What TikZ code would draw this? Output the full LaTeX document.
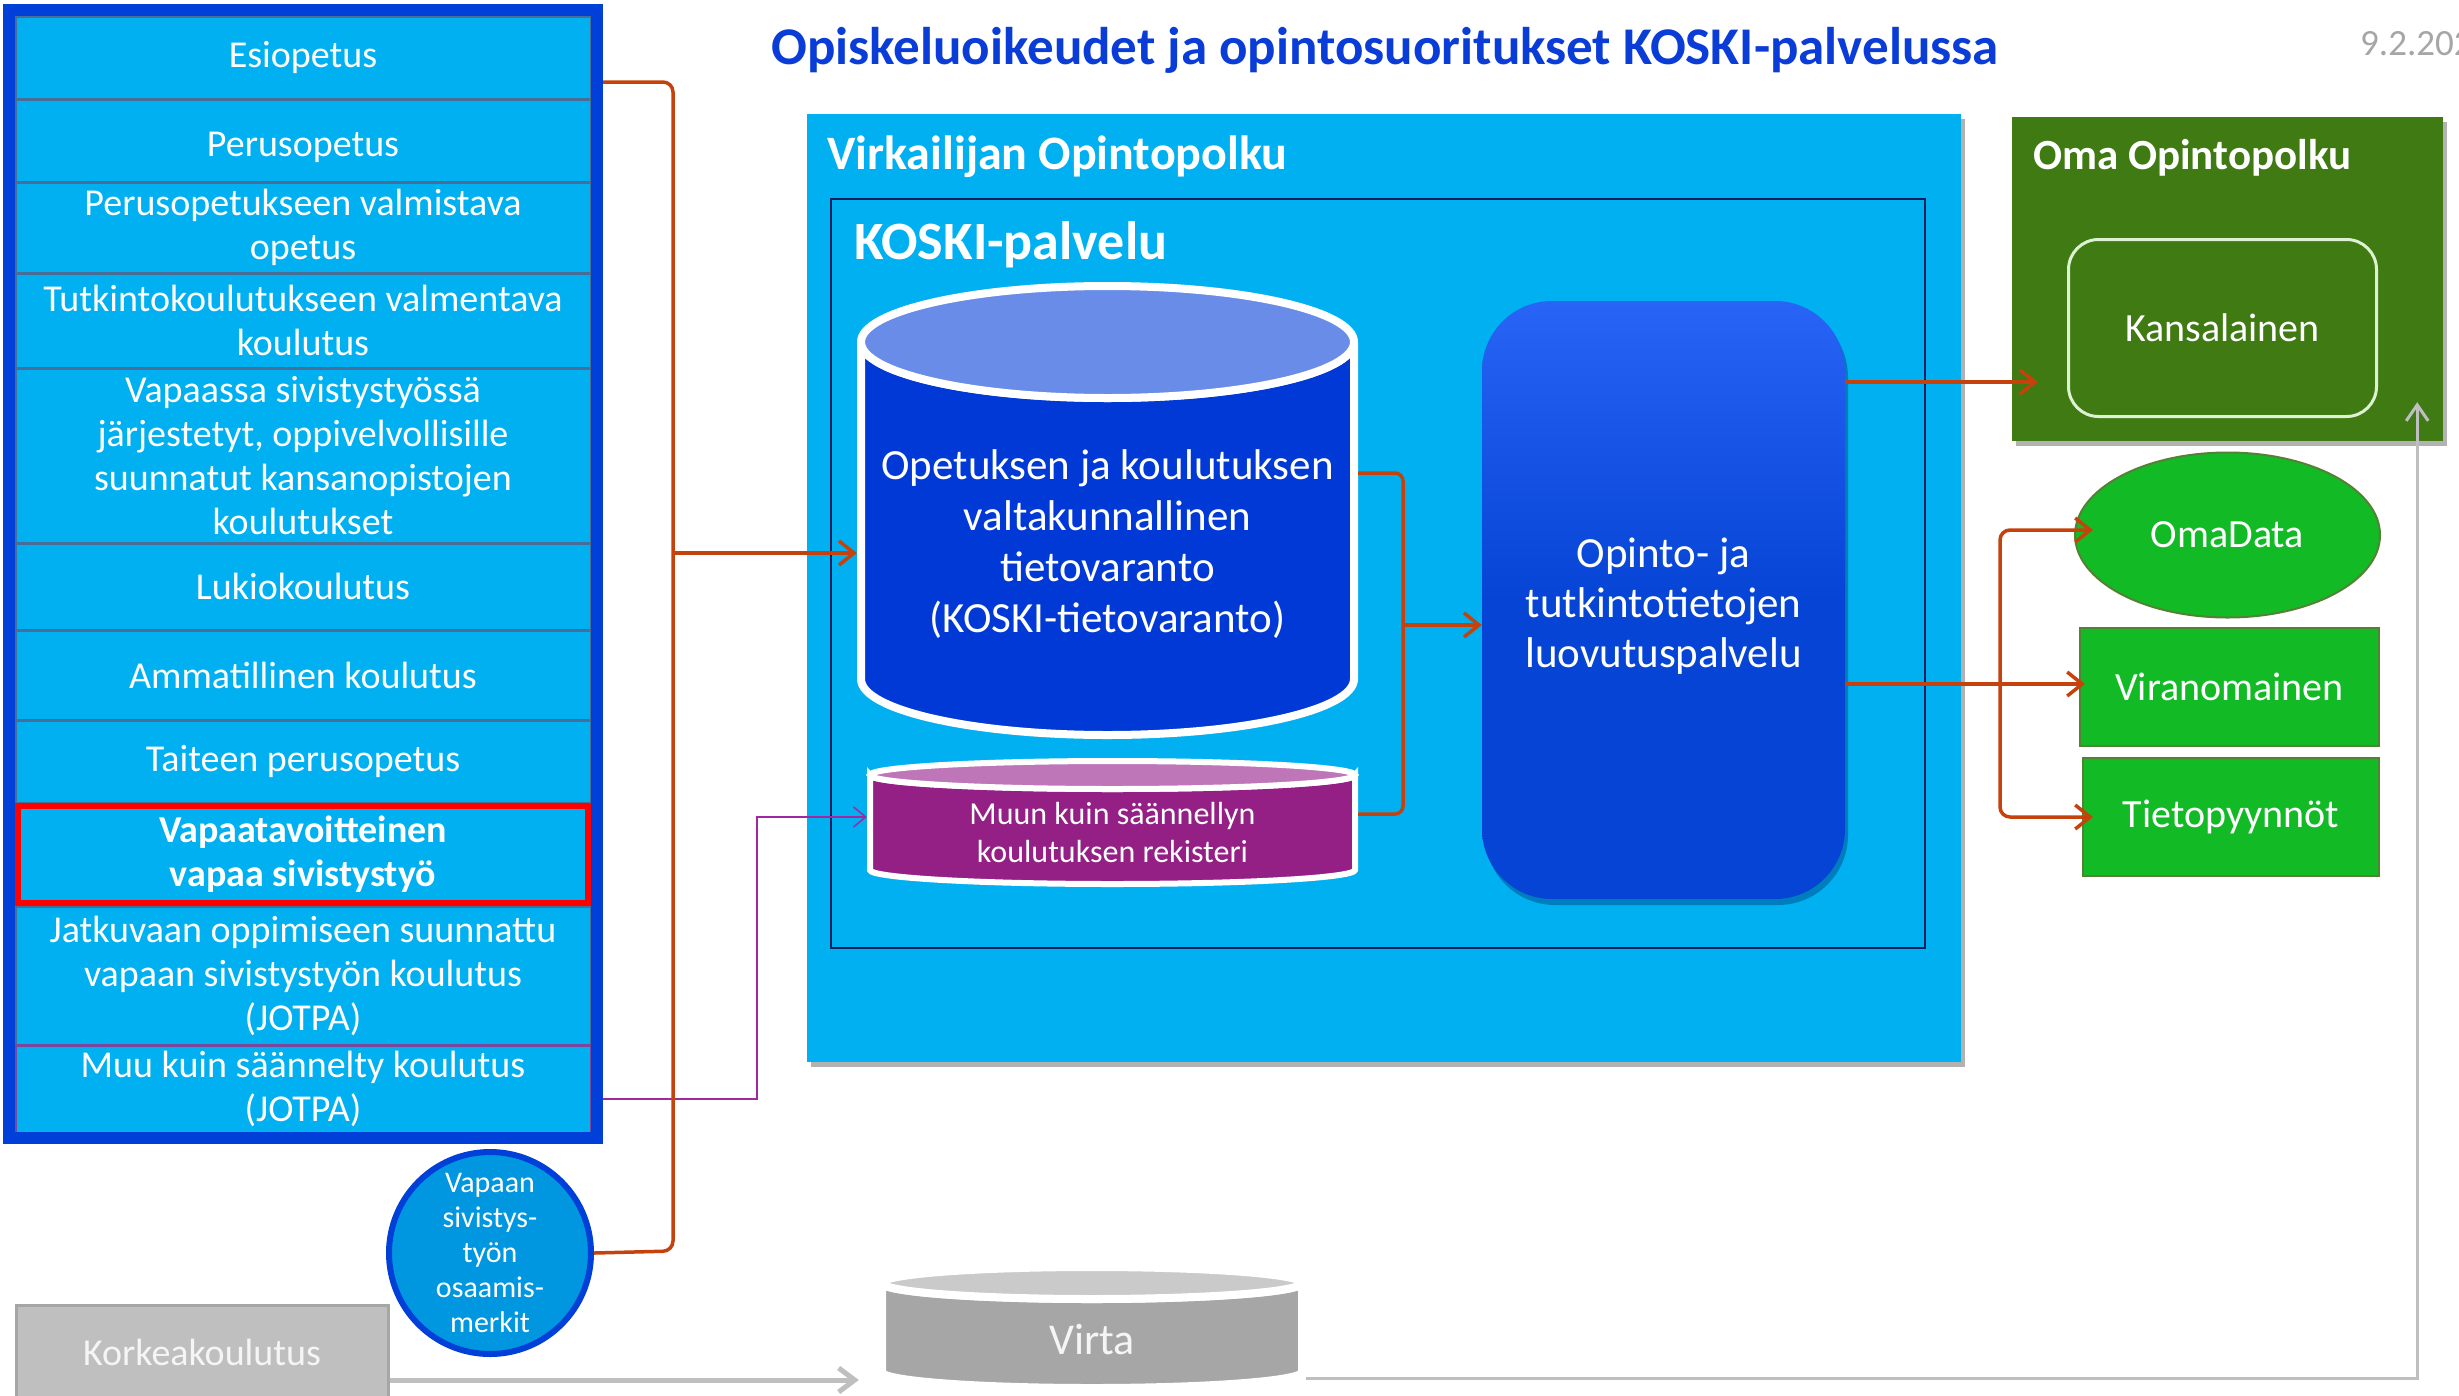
\documentclass[tikz,border=0pt]{standalone}
\usepackage{fontspec}
\setmainfont{Carlito}
\usetikzlibrary{arrows.meta,shadows,calc,shapes.geometric}
\definecolor{cyanbg}{RGB}{0,176,240}
\definecolor{frameblue}{RGB}{0,64,216}
\definecolor{sepc}{RGB}{70,110,150}
\definecolor{titleblue}{RGB}{10,60,215}
\definecolor{orangel}{RGB}{197,66,12}
\definecolor{darkgreen}{RGB}{63,122,19}
\definecolor{brightgreen}{RGB}{18,187,37}
\definecolor{greenedge}{RGB}{84,130,53}
\definecolor{kansedge}{RGB}{220,242,210}
\definecolor{dbbody}{RGB}{0,57,214}
\definecolor{dbtop}{RGB}{105,140,232}
\definecolor{svcblue}{RGB}{6,68,214}
\definecolor{svctop}{RGB}{40,100,245}
\definecolor{purpbody}{RGB}{148,32,134}
\definecolor{purptop}{RGB}{190,118,184}
\definecolor{purpline}{RGB}{160,40,160}
\definecolor{virtabody}{RGB}{166,166,166}
\definecolor{virtatop}{RGB}{202,202,202}
\definecolor{korkfill}{RGB}{191,191,191}
\definecolor{korkedge}{RGB}{166,166,166}
\definecolor{greyline}{RGB}{191,191,191}
\definecolor{badgefill}{RGB}{0,150,224}
\definecolor{navy}{RGB}{0,32,96}
\definecolor{dategrey}{RGB}{166,166,166}
\newcommand\drawcyl[8]{%
  \path[fill=#6, draw=white, line width=#8]
    (#1-#2,#3) -- (#1-#2,#4)
    arc[start angle=180,end angle=360,x radius=#2pt,y radius=#5pt]
    -- (#1+#2,#3)
    arc[start angle=0,end angle=-180,x radius=#2pt,y radius=#5pt] -- cycle;
  \path[fill=#7, draw=white, line width=#8] (#1,#3) ellipse[x radius=#2pt, y radius=#5pt];}
\begin{document}
\begin{tikzpicture}[x=1pt,y=-1pt,
  cell/.style={draw=sepc, line width=3, fill=cyanbg, minimum width=576, inner sep=0,
    text=white, align=center, font={\fontsize{38}{44}\selectfont}},
  oline/.style={draw=orangel, line width=3.5},
  oarrow/.style={oline, -{Straight Barb[length=15pt,width=24pt]}},
  parrow/.style={draw=purpline, line width=1.5, -{Straight Barb[length=12pt,width=20pt]}},
  garrow/.style={draw=greyline, line width=5, -{Straight Barb[length=16pt,width=24pt]}},
  gline/.style={draw=greyline, line width=3, -{Straight Barb[length=16pt,width=22pt]}},
  wtext/.style={text=white, align=center, inner sep=0},
  gtext/.style={draw=greenedge, line width=2, fill=brightgreen, inner sep=0, text=white, font={\fontsize{40}{48}\selectfont}},
  shad/.style={drop shadow={shadow xshift=4pt,shadow yshift=-5pt,opacity=.3,fill=black}}
]
\useasboundingbox (0,0) rectangle (2459,1395);
\clip (0,0) rectangle (2459,1395);
\fill[white] (0,0) rectangle (2459,1395);

% title and date
\node[anchor=base west, inner sep=0, text=titleblue, font={\fontsize{53}{62}\selectfont\bfseries}] (title) at (771,64) {Opiskeluoikeudet ja opintosuoritukset KOSKI-palvelussa};
\node[anchor=base west, inner sep=0, text=dategrey, font={\fontsize{37}{44}\selectfont}] (date) at (2360,55) {9.2.202};

% left stack
\node[cell, minimum height=83] (c1) at (303,57.5) {Esiopetus};
\node[cell, minimum height=83, text height=40pt, text depth=8pt] (c2) at (303,140.5) {Perusopetus};
\node[cell, minimum height=91] (c3) at (303,227.5) {Perusopetukseen valmistava\\opetus};
\node[cell, minimum height=95] (c4) at (303,320.5) {Tutkintokoulutukseen valmentava\\koulutus};
\node[cell, minimum height=175] (c5) at (303,455.5) {Vapaassa sivistystyössä\\järjestetyt, oppivelvollisille\\suunnatut kansanopistojen\\koulutukset};
\node[cell, minimum height=87] (c6) at (303,586.5) {Lukiokoulutus};
\node[cell, minimum height=90] (c7) at (303,675) {Ammatillinen koulutus};
\node[cell, minimum height=83] (c8) at (303,761.5) {Taiteen perusopetus};
\node[cell, minimum height=139] (c10) at (303,975.5) {Jatkuvaan oppimiseen suunnattu\\vapaan sivistystyön koulutus\\(JOTPA)};
\node[cell, draw=purpline!55!sepc, minimum height=88] (c11) at (303,1089) {Muu kuin säännelty koulutus\\(JOTPA)};
\node[cell, draw=red, line width=6, minimum width=570, minimum height=97, font={\fontsize{38}{44}\selectfont\bfseries}] (c9) at (303,854.5) {Vapaatavoitteinen\\vapaa sivistystyö};
\node[draw=frameblue, line width=12, minimum width=588, minimum height=1128, inner sep=0] (stack) at (303,574) {};

% badge
\node[circle, draw=frameblue, line width=6, fill=badgefill, minimum size=202, inner sep=0, wtext, font={\fontsize{30}{35}\selectfont}] (badge) at (490,1253) {Vapaan\\sivistys-\\työn\\osaamis-\\merkit};

% Korkeakoulutus
\node[draw=korkedge, line width=3, fill=korkfill, minimum width=372, minimum height=95, inner sep=0, text={rgb,255:red,245;green,245;blue,245}, font={\fontsize{38}{44}\selectfont}] (korkea) at (202,1352.5) {Korkeakoulutus};

% Virkailijan Opintopolku
\node[fill=cyanbg, minimum width=1154, minimum height=948, inner sep=0, shad] (virk) at (1384,588) {};
\node[anchor=base west, wtext, font={\fontsize{48}{56}\selectfont\bfseries}] (virkt) at (827,169) {Virkailijan Opintopolku};
\node[draw=navy, line width=2, minimum width=1094, minimum height=749, inner sep=0] (koski) at (1378,573.5) {};
\node[anchor=base west, wtext, font={\fontsize{54}{62}\selectfont\bfseries}] (koskit) at (854,259) {KOSKI-palvelu};

% cylinders
\drawcyl{1107.5}{246.5}{342}{679}{56}{dbbody}{dbtop}{8}
\node[wtext, minimum width=501, minimum height=516, font={\fontsize{43}{51}\selectfont}] (db) at (1107.5,544) {Opetuksen ja koulutuksen\\valtakunnallinen\\tietovaranto\\(KOSKI-tietovaranto)};
\drawcyl{1112.5}{242.5}{775}{870}{14}{purpbody}{purptop}{6}
\node[wtext, minimum width=491, minimum height=100, font={\fontsize{32}{38}\selectfont}] (reg) at (1112.5,832) {Muun kuin säännellyn\\koulutuksen rekisteri};

% service
\node[rounded corners=70, top color=svctop, bottom color=svcblue, middle color=svcblue, minimum width=363, minimum height=598, inner sep=0, drop shadow={shadow xshift=3pt,shadow yshift=-6pt,opacity=.35,fill=navy}] (svc) at (1663.5,600) {};
\node[wtext, font={\fontsize{43}{50}\selectfont}] (svct) at (svc.center) [yshift=-6pt] {Opinto- ja\\tutkintotietojen\\luovutuspalvelu};

% Oma Opintopolku
\node[fill=darkgreen, minimum width=431, minimum height=324, inner sep=0, shad] (oma) at (2227.5,279) {};
\node[anchor=base west, wtext, font={\fontsize{43}{50}\selectfont\bfseries}] (omat) at (2033,169) {Oma Opintopolku};
\node[draw=kansedge, line width=3, rounded corners=30, minimum width=308, minimum height=177, inner sep=0, wtext, font={\fontsize{40}{48}\selectfont}] (kans) at (2222.5,328) {Kansalainen};

% receivers
\node[ellipse, gtext, minimum width=305, minimum height=165] (omadata) at (2227.5,535) {OmaData};
\node[gtext, minimum width=299, minimum height=118] (viran) at (2229.5,687) {Viranomainen};
\node[gtext, minimum width=296, minimum height=118] (tieto) at (2231,817) {Tietopyynnöt};

% Virta
\drawcyl{1092}{210}{1283}{1372}{16}{virtabody}{virtatop}{8}
\node[minimum width=428, minimum height=90, inner sep=0, text={rgb,255:red,245;green,245;blue,245}, font={\fontsize{44}{52}\selectfont}] (virta) at (1092,1340) {Virta};

% connectors
\draw[parrow] (stack.east |- 0,1099) -- (757,1099) |- (reg.west |- 0,817);
\draw[oline, rounded corners=10] (stack.east |- 0,82) -| (673,1251) -- (badge.east);
\draw[oarrow] (673,553) -- (db.west |- 0,553);
\draw[oline, rounded corners=8] (db.east |- 0,473) -| (1403,814) -- (reg.east |- 0,814);
\draw[oarrow] (1403,625) -- (svc.west |- 0,625);
\draw[oarrow] (svc.east |- 0,382) -- ($(oma.west |- 0,382)+(26,0)$);
\draw[oarrow] (svc.east |- 0,684) -- ($(viran.west |- 0,684)+(6,0)$);
\draw[oarrow, rounded corners=10] (2000,684) |- ($(omadata.west)+(19,-5)$);
\draw[oarrow, rounded corners=10] (2000,684) |- ($(tieto.west)+(11,0)$);
\draw[garrow] (korkea.east |- 0,1380) -- ($(virta.west |- 0,1380)+(-19,0)$);
\draw[gline] (virta.east |- 0,1378) -| ($(oma.south east)+(-26,-39)$);
\end{tikzpicture}
\end{document}
